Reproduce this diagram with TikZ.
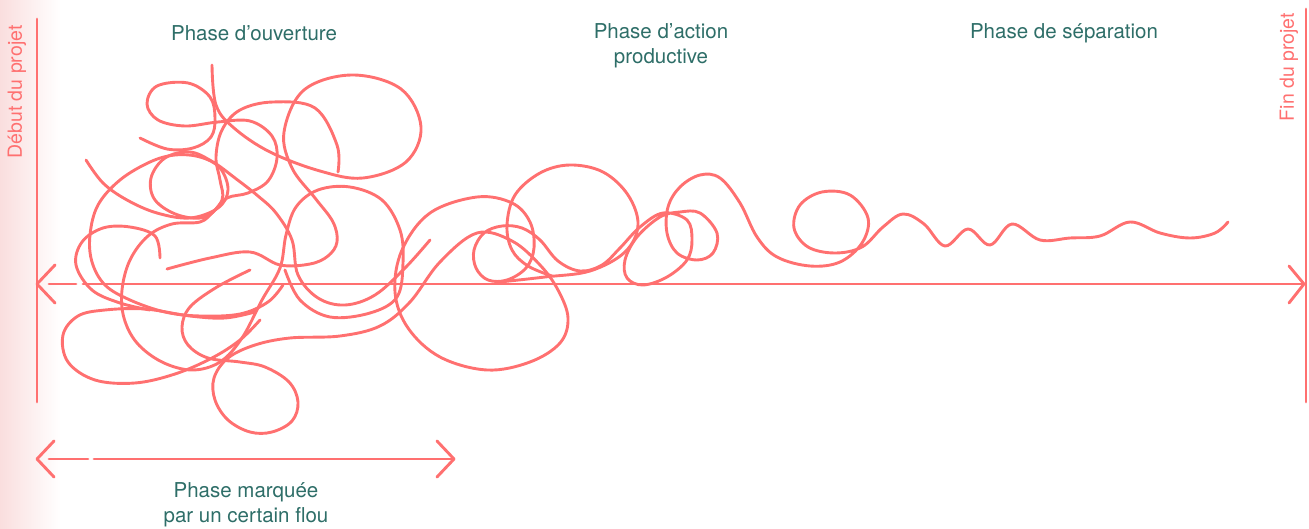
\documentclass[tikz,border=0pt]{standalone}
\usepackage{fontspec}
\setmainfont{TeX Gyre Heros}
\definecolor{salmon}{RGB}{255,112,112}
\definecolor{tealtext}{RGB}{46,110,104}
\definecolor{pinkbg}{RGB}{250,222,222}
\begin{document}
\begin{tikzpicture}[x=1pt,y=-1pt,
  scrib/.style={draw=salmon, line width=2.9pt, line cap=round, line join=round},
  axisline/.style={draw=salmon, line width=2.9pt, line cap=round, line join=round},
  phase/.style={text=tealtext, font=\fontsize{20.5}{25}\selectfont, align=center, inner sep=0pt},
  edge/.style={text=salmon, font=\fontsize{19.5}{24}\selectfont, rotate=90, inner sep=0pt}]
\useasboundingbox (0,0) rectangle (1309,529);
\shade[left color=pinkbg, right color=white] (0,0) rectangle (60,529);
% labels
\node[phase] (ouv) at (254,33) {Phase d’ouverture};
\node[phase] (act) at (661,46) {Phase d’action\\productive};
\node[phase] (sep) at (1064,33) {Phase de séparation};
\node[phase] (flou) at (246,505) {Phase marquée\\par un certain flou};
\node[edge] (deb) at (17,92) {Début du projet};
\node[edge] (fin) at (1289,67) {Fin du projet};
% vertical lines
\coordinate (lt) at (37,19); \coordinate (lb) at (37,402);
\coordinate (rt) at (1306,9); \coordinate (rb) at (1306,402);
\draw[axisline] (lt) -- (lb);
\draw[axisline] (rt) -- (rb);
% main axis
\coordinate (a0) at (37,284); \coordinate (a1) at (49,284); \coordinate (a2) at (76,284);
\coordinate (a3) at (83,284); \coordinate (a4) at (1304,284);
\draw[axisline] (55,265) -- (a0) -- (55,303);
\draw[axisline] (a1) -- (a2);
\draw[axisline] (a3) -- (a4);
\draw[axisline] (1289,266) -- (a4) -- (1289,303);
% bottom arrow
\coordinate (b0) at (37,459); \coordinate (b1) at (49,459); \coordinate (b2) at (88,459);
\coordinate (b3) at (94,459); \coordinate (b4) at (454,459);
\draw[axisline] (54,441) -- (b0) -- (54,477);
\draw[axisline] (b1) -- (b2);
\draw[axisline] (b3) -- (b4);
\draw[axisline] (437,441) -- (b4) -- (437,477);
% scribble
\draw[scrib] plot[smooth,tension=0.6] coordinates {(212,65) (216,105) (234,128) (270,152) (320,171) (363,178) (406,162) (421,127) (401,89) (352,75) (304,90) (284,132) (292,168) (315,198) (333,222) (337,242) (328,256) (310,264) (280,265) (250,252) (210,258) (167,269)};
\draw[scrib] plot[smooth,tension=0.6] coordinates {(140,138) (167,149) (193,148) (211,137) (215,118) (210,97) (188,83) (157,86) (147,104) (158,120) (185,126) (218,122) (250,121) (272,136) (277,158) (268,181) (248,193) (227,198) (213,212) (200,222) (172,224) (148,236) (130,260) (122,290) (124,318) (137,343) (162,362) (192,370) (220,362) (242,338) (262,300) (280,268) (286,235) (296,207) (318,190) (350,187) (382,200) (400,230) (403,263) (397,297) (370,313) (330,317) (300,300) (285,270)};
\draw[scrib] plot[smooth,tension=0.6] coordinates {(338,172) (337,145) (315,108) (273,102) (240,110) (222,130) (216,157) (220,180) (222,200) (205,217) (178,215) (155,200) (151,178) (165,158) (190,152) (213,162) (235,178) (258,196) (276,213) (292,240) (298,275) (318,298) (345,305) (375,295) (405,268) (430,240)};
\draw[scrib] plot[smooth,tension=0.6] coordinates {(86,160) (103,183) (127,200) (157,213) (190,218) (218,208) (228,190) (220,168) (200,157) (175,155) (150,162) (120,180) (98,205) (90,235) (92,262) (105,285) (130,300) (165,312) (200,316) (240,314) (268,302) (283,285)};
\draw[scrib] plot[smooth,tension=0.6] coordinates {(160,258) (155,236) (130,227) (103,228) (82,242) (76,265) (92,290) (120,303) (150,310)};
\draw[scrib] plot[smooth,tension=0.6] coordinates {(260,320) (240,340) (212,358) (175,374) (135,383) (95,380) (68,362) (63,335) (78,316) (105,310) (145,309) (190,316) (225,318) (255,312)};
\draw[scrib] plot[smooth,tension=0.6] coordinates {(250,270) (217,287) (190,307) (182,327) (188,345) (208,358) (240,362) (265,367) (289,382) (298,402) (292,421) (272,432) (250,432) (228,420) (215,400) (214,378) (228,358) (255,345) (290,338) (340,336) (380,326) (410,302) (440,262) (477,233) (512,241) (540,265) (558,290) (568,318) (560,343) (530,362) (487,370) (440,357) (408,328) (395,292) (402,250) (430,213) (477,197) (512,203) (530,222) (534,248) (526,268) (507,280) (488,280) (476,268) (474,250) (484,233) (502,226) (522,228) (540,240) (558,261) (580,271) (602,265) (620,248) (640,227) (663,213) (687,220) (692,240) (687,260) (667,277) (643,285) (627,278) (625,260) (637,237) (660,217) (680,212) (700,213) (717,233) (713,253) (697,260) (677,253) (667,233) (668,207) (680,187) (700,175) (720,178) (740,203) (757,237) (777,257) (810,266) (840,262) (862,243) (868,218) (850,195) (822,192) (800,205) (794,228) (808,247) (835,253) (862,247) (883,227) (903,214) (924,224) (945,246) (968,229) (990,245) (1012,224) (1040,240) (1070,238) (1100,236) (1130,222) (1160,233) (1190,238) (1215,233) (1228,222)};
\draw[scrib] plot[smooth,tension=0.6] coordinates {(500,282) (545,277) (590,271) (625,252) (638,225) (628,195) (603,172) (570,165) (540,173) (515,195) (507,225) (512,250) (528,266) (552,276)};
\end{tikzpicture}
\end{document}
